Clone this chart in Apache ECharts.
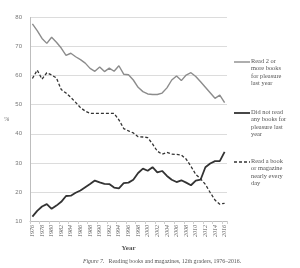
<!DOCTYPE html>
<html><head><meta charset="utf-8">
<script src="https://cdn.jsdelivr.net/npm/echarts@6/dist/echarts.min.js"></script>
<style>html,body{margin:0;padding:0;background:#fff}#c{width:300px;height:268px}</style>
</head><body><div id="c"></div>
<script>
var years = [];
for (var y = 1976; y <= 2016; y++) years.push(String(y));
var seriesNames = ["Read 2 or\nmore books\nfor pleasure\nlast year", "Did not read\nany books for\npleasure last\nyear", "Read a book\nor magazine\nnearly every\nday"];
var readTwoOrMore = [77.8,75.5,72.8,71.1,73.2,71.5,69.5,67.0,67.7,66.5,65.5,64.3,62.5,61.5,63.0,61.4,62.6,61.5,63.4,60.5,60.3,58.5,56.0,54.5,53.7,53.5,53.5,54.0,55.8,58.5,59.9,58.3,60.2,61.0,59.7,57.9,56.0,54.1,52.2,53.3,50.7];
var readNone = [11.5,13.5,15.0,15.8,14.2,15.3,16.6,18.6,18.7,19.7,20.5,21.6,22.7,23.9,23.3,22.8,22.7,21.5,21.2,23.0,23.2,24.2,26.5,28.0,27.3,28.5,26.7,27.2,25.5,24.2,23.4,24.0,23.2,22.3,23.9,24.2,28.5,29.8,30.6,30.6,33.8];
var readDaily = [59.0,61.9,58.8,61.0,60.2,59.2,55.2,54.0,52.5,50.8,49.0,47.8,47.0,47.0,47.0,47.0,47.0,47.0,44.8,41.8,41.0,40.3,39.0,38.9,38.7,36.5,34.0,33.0,33.6,33.0,32.9,32.7,31.3,28.8,26.0,24.5,22.6,19.8,17.2,15.8,16.1];
var yTicks = [10, 80, 10]; // min, max, interval

var chart = echarts.init(document.getElementById('c'), null, {renderer: 'canvas'});
var serif = "'Liberation Serif','DejaVu Serif',serif";
var sans = "'Liberation Sans',Arial,sans-serif";

function legendItem(i, y, color, width, dashed) {
  return [
    {type: 'line', shape: {x1: 234, y1: y, x2: 250, y2: y},
     style: {stroke: color, lineWidth: width, lineDash: dashed ? [3, 2] : null}},
    {type: 'text', x: 251, y: y - 4, style: {text: seriesNames[i], font: "6.4px " + serif, fill: '#555', lineHeight: 7.2}}
  ];
}

var option = {
  animation: false,
  grid: {left: 30, right: 73, top: 17.5, bottom: 47, containLabel: false},
  xAxis: {
    type: 'category', data: years, boundaryGap: true,
    axisLine: {lineStyle: {color: '#bdbdbd', width: 1}},
    axisTick: {show: true, interval: 1, length: 3, lineStyle: {color: '#cfcfcf'}},
    axisLabel: {interval: 1, rotate: 90, fontSize: 6, fontFamily: serif, fontStyle: 'italic', color: '#666', margin: 4},
    name: 'Year', nameLocation: 'middle', nameGap: 24,
    nameTextStyle: {fontFamily: serif, fontWeight: 'bold', fontSize: 7, color: '#555'}
  },
  yAxis: {
    type: 'value', min: yTicks[0], max: yTicks[1], interval: yTicks[2],
    axisLine: {show: true, lineStyle: {color: '#bdbdbd'}},
    axisTick: {show: false},
    axisLabel: {fontSize: 6, fontFamily: sans, color: '#777', margin: 8,
      formatter: function (v) { return String(Math.round(v)); }},
    splitLine: {lineStyle: {color: '#dcdcdc', width: 1}},
    name: '%', nameLocation: 'middle', nameRotate: 0, nameGap: 13,
    nameTextStyle: {fontFamily: serif, fontStyle: 'italic', fontSize: 6.5, color: '#666'}
  },
  series: [
    {name: seriesNames[0], type: 'line', data: readTwoOrMore, symbol: 'none',
     lineStyle: {color: '#8c8c8c', width: 1.4}},
    {name: seriesNames[1], type: 'line', data: readNone, symbol: 'none',
     lineStyle: {color: '#333', width: 1.8}},
    {name: seriesNames[2], type: 'line', data: readDaily, symbol: 'none',
     lineStyle: {color: '#333', width: 1.3, type: [3, 2]}}
  ],
  graphic: [].concat(
    legendItem(0, 62, '#8c8c8c', 1.4, false),
    legendItem(1, 113, '#333', 1.8, false),
    legendItem(2, 162, '#333', 1.3, true),
    [{type: 'text', x: 162, y: 261, style: {
      text: '{i|Figure 7.}   Reading books and magazines, 12th graders, 1976–2016.',
      align: 'center', verticalAlign: 'middle', font: "5.8px " + serif, fill: '#555',
      rich: {i: {fontStyle: 'italic', fontFamily: serif, fontSize: 5.8, fill: '#555'}}}}]
  )
};
chart.setOption(option);
</script>
</body></html>
